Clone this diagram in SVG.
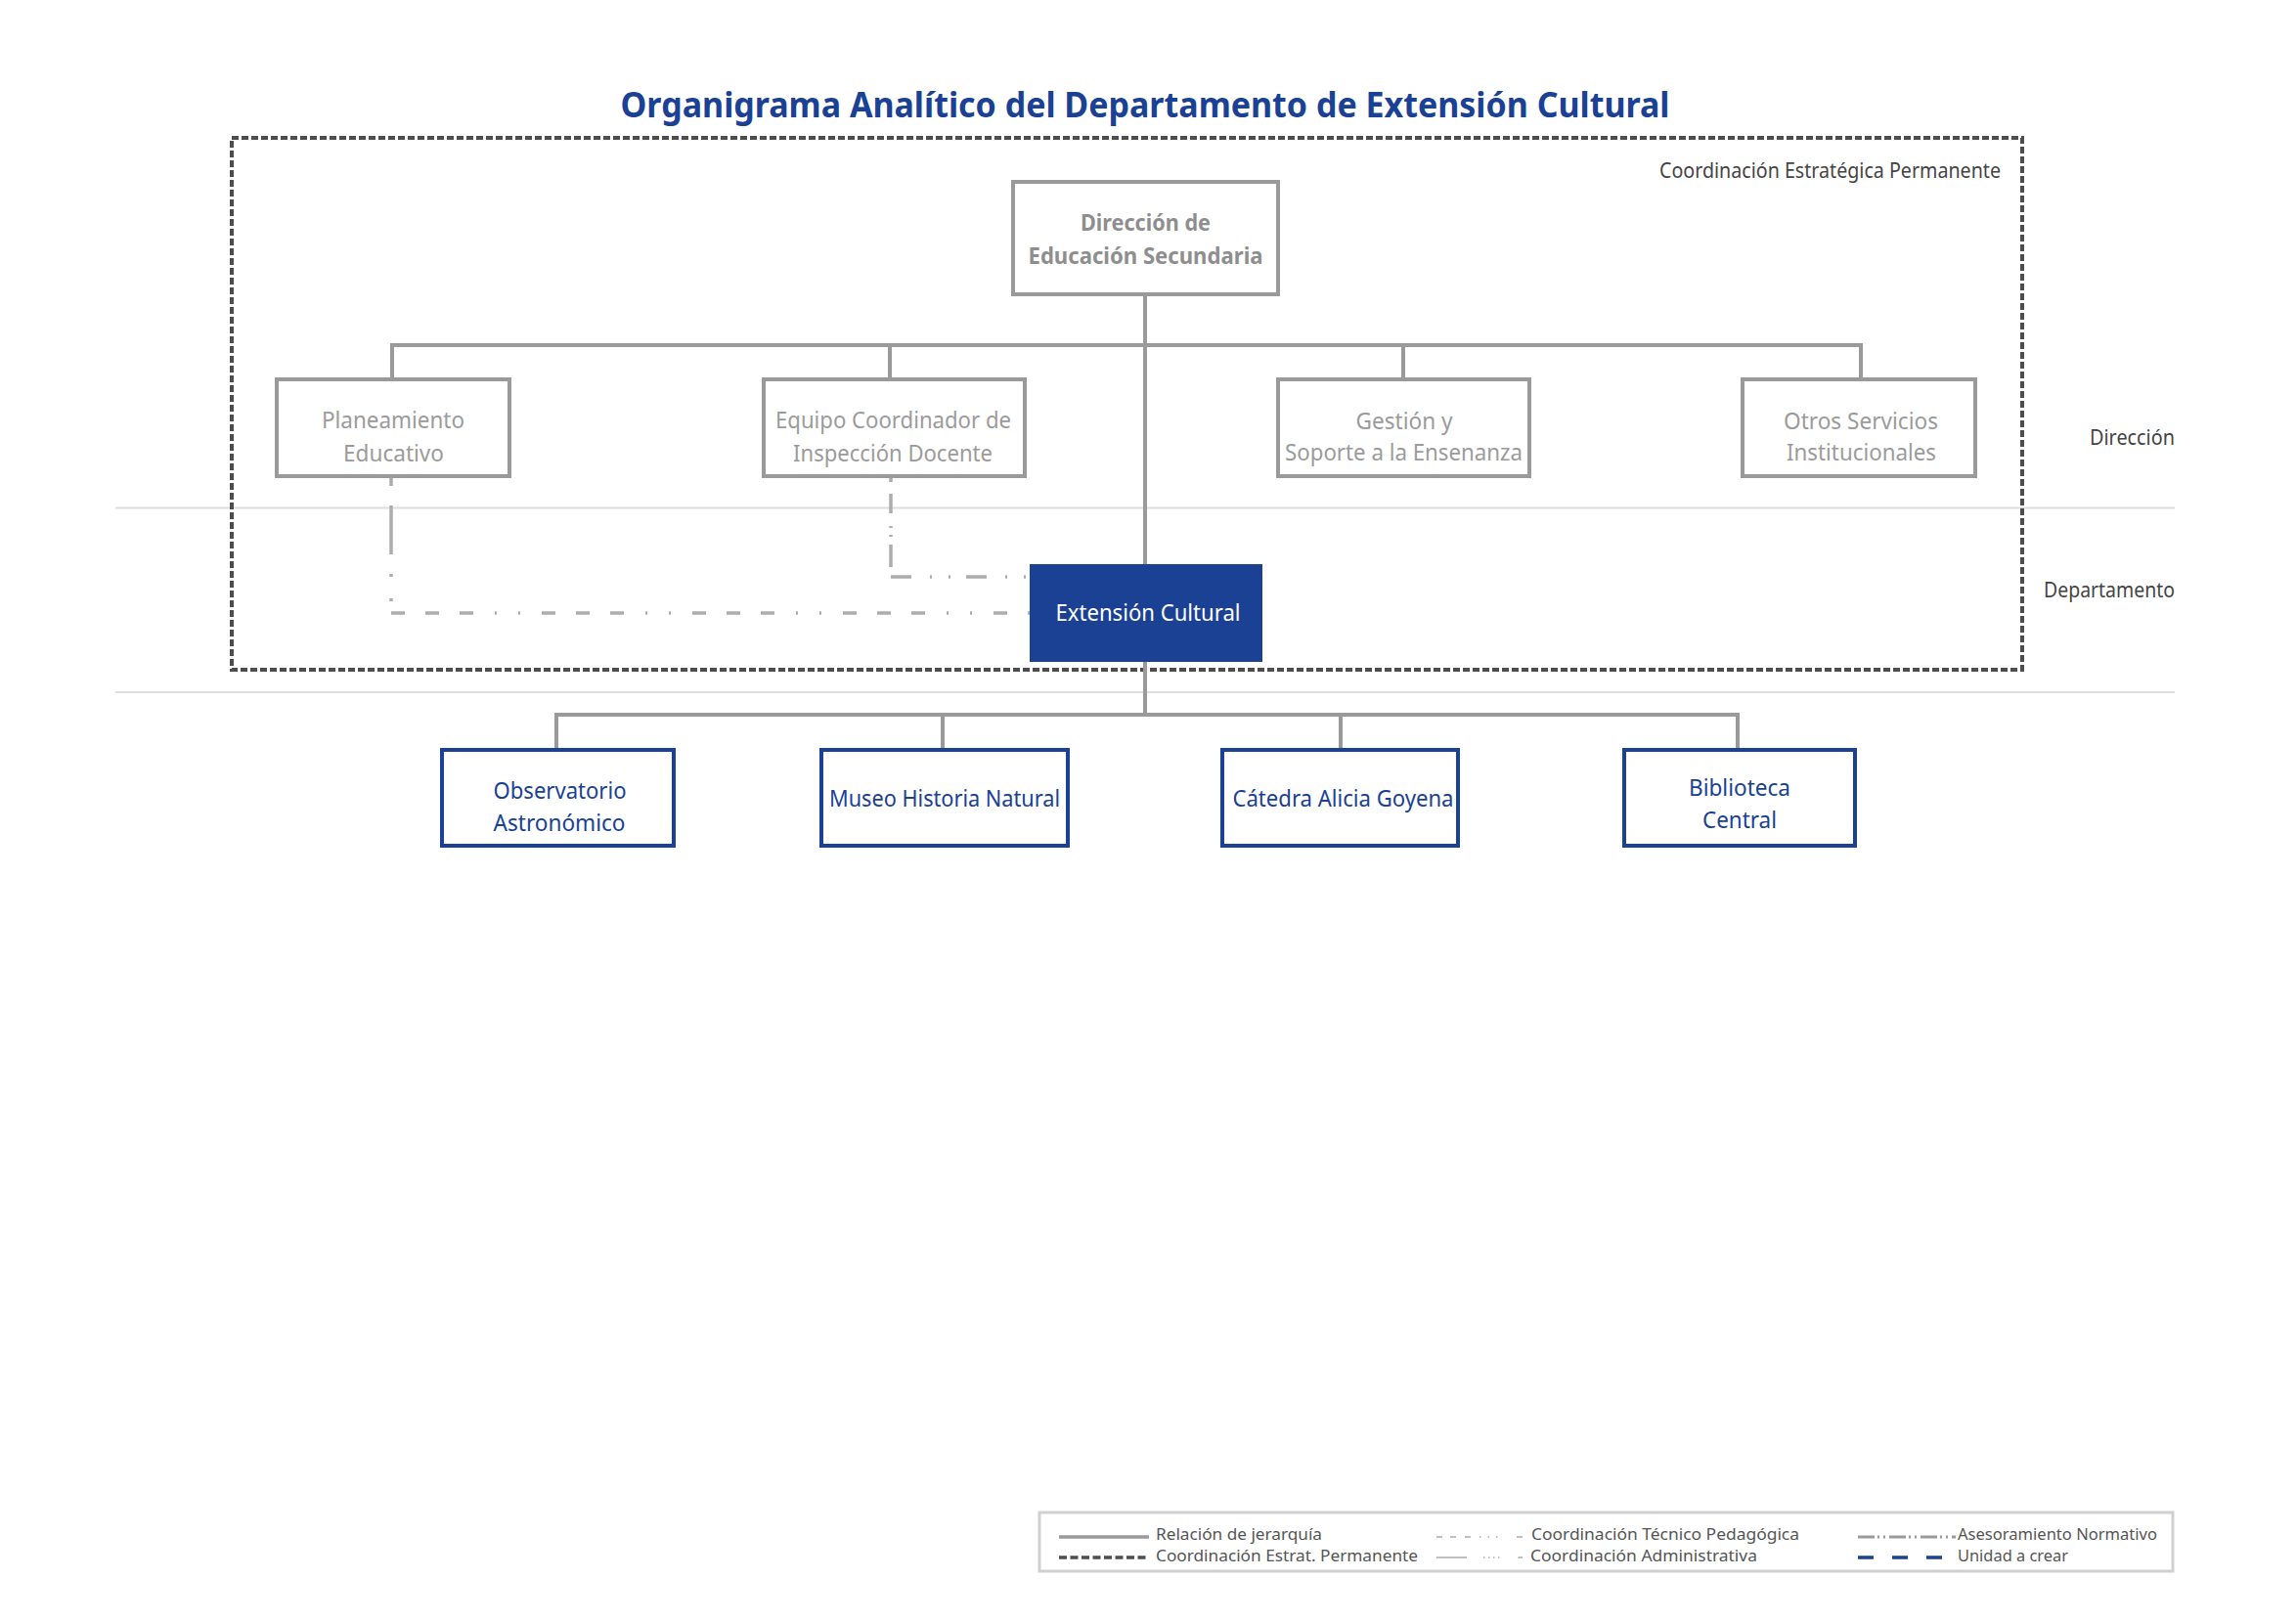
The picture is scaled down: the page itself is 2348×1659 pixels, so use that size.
<svg xmlns="http://www.w3.org/2000/svg" width="2348" height="1659" viewBox="0 0 2348 1659">
<style>
text{font-family:"Noto Sans","Open Sans",sans-serif;}
.title{font-size:35px;font-weight:700;fill:#1a4194;text-anchor:middle;}
.gbox{fill:#ffffff;stroke:#9a9a9a;stroke-width:4;}
.bbox{fill:#ffffff;stroke:#1a4194;stroke-width:4;}
.gtxt{font-size:23px;fill:#9b9b9b;text-anchor:middle;}
.gbold{font-size:23px;font-weight:700;fill:#8e8e8e;text-anchor:middle;}
.btxt{font-size:23px;fill:#1a4194;text-anchor:middle;}
.wtxt{font-size:23px;fill:#ffffff;text-anchor:middle;}
.lbl{font-size:21px;fill:#444444;}
.leg{font-size:17px;fill:#555555;}
.hier{stroke:#9a9a9a;stroke-width:4;fill:none;}
.coord{stroke:#adadad;stroke-width:3.5;fill:none;}
.band{stroke:#dddddd;stroke-width:2;}
</style>
<rect x="0" y="0" width="2348" height="1659" fill="#ffffff"/>

<g id="bands">
<line class="band" x1="118" y1="519.5" x2="2224" y2="519.5"/>
<line class="band" x1="118" y1="708" x2="2224" y2="708"/>
</g>

<text class="title" x="1171" y="120" textLength="1073" lengthAdjust="spacingAndGlyphs">Organigrama Analítico del Departamento de Extensión Cultural</text>

<g id="coord-estrategica">
<rect x="237" y="141" width="1831" height="544" fill="none" stroke="#4d4d4d" stroke-width="4" stroke-dasharray="7 3"/>
<text class="lbl" x="2046" y="182" text-anchor="end" textLength="349" lengthAdjust="spacingAndGlyphs">Coordinación Estratégica Permanente</text>
</g>

<g id="level-labels">
<text class="lbl" x="2224" y="455" text-anchor="end" textLength="87" lengthAdjust="spacingAndGlyphs">Dirección</text>
<text class="lbl" x="2224" y="611" text-anchor="end" textLength="134" lengthAdjust="spacingAndGlyphs">Departamento</text>
</g>

<g id="connectors">
<line class="hier" x1="1171" y1="301" x2="1171" y2="731"/>
<line class="hier" x1="401" y1="353" x2="1903" y2="353"/>
<line class="hier" x1="401" y1="351" x2="401" y2="388"/>
<line class="hier" x1="910" y1="353" x2="910" y2="388"/>
<line class="hier" x1="1435" y1="353" x2="1435" y2="388"/>
<line class="hier" x1="1903" y1="351" x2="1903" y2="388"/>
<line class="hier" x1="569" y1="731" x2="1777" y2="731"/>
<line class="hier" x1="569" y1="729" x2="569" y2="767"/>
<line class="hier" x1="964" y1="731" x2="964" y2="767"/>
<line class="hier" x1="1371" y1="731" x2="1371" y2="767"/>
<line class="hier" x1="1777" y1="729" x2="1777" y2="767"/>
<line class="coord" x1="400" y1="487" x2="400" y2="627" stroke-width="3" stroke-dasharray="10 20 50 20 3 22 3 12"/>
<line class="coord" x1="400" y1="627" x2="1053" y2="627" stroke-dasharray="14 21 14 21 14 22 2 22 2 22"/>
<line class="coord" x1="911" y1="487" x2="911" y2="590" stroke-width="3" stroke-dasharray="6 12 20 13 2 7 2 8 23 10"/>
<line class="coord" x1="911" y1="590" x2="1053" y2="590" stroke-dasharray="21 19 2 17 2 16"/>
</g>

<g id="node-direccion">
<rect class="gbox" x="1036" y="186" width="271" height="115"/>
<text class="gbold" x="1171.5" y="236" textLength="133" lengthAdjust="spacingAndGlyphs">Dirección de</text>
<text class="gbold" x="1171.5" y="270" textLength="240" lengthAdjust="spacingAndGlyphs">Educación Secundaria</text>
</g>

<g id="node-planeamiento">
<rect class="gbox" x="283" y="388" width="238" height="99"/>
<text class="gtxt" x="402" y="438" textLength="146" lengthAdjust="spacingAndGlyphs">Planeamiento</text>
<text class="gtxt" x="402.5" y="472" textLength="103" lengthAdjust="spacingAndGlyphs">Educativo</text>
</g>

<g id="node-equipo">
<rect class="gbox" x="781" y="388" width="267" height="99"/>
<text class="gtxt" x="913.5" y="438" textLength="241" lengthAdjust="spacingAndGlyphs">Equipo Coordinador de</text>
<text class="gtxt" x="913" y="472" textLength="204" lengthAdjust="spacingAndGlyphs">Inspección Docente</text>
</g>

<g id="node-gestion">
<rect class="gbox" x="1307" y="388" width="257" height="99"/>
<text class="gtxt" x="1436" y="439" textLength="99" lengthAdjust="spacingAndGlyphs">Gestión y</text>
<text class="gtxt" x="1435.5" y="471" textLength="243" lengthAdjust="spacingAndGlyphs">Soporte a la Ensenanza</text>
</g>

<g id="node-otros">
<rect class="gbox" x="1782" y="388" width="238" height="99"/>
<text class="gtxt" x="1903" y="439" textLength="158" lengthAdjust="spacingAndGlyphs">Otros Servicios</text>
<text class="gtxt" x="1903.5" y="471" textLength="153" lengthAdjust="spacingAndGlyphs">Institucionales</text>
</g>

<g id="node-extension">
<rect x="1053" y="577" width="238" height="100" fill="#1a4194"/>
<text class="wtxt" x="1174" y="635" textLength="189" lengthAdjust="spacingAndGlyphs">Extensión Cultural</text>
</g>

<g id="node-observatorio">
<rect class="bbox" x="452" y="767" width="237" height="98"/>
<text class="btxt" x="572.5" y="817" textLength="136" lengthAdjust="spacingAndGlyphs">Observatorio</text>
<text class="btxt" x="572" y="850" textLength="135" lengthAdjust="spacingAndGlyphs">Astronómico</text>
</g>

<g id="node-museo">
<rect class="bbox" x="840" y="767" width="252" height="98"/>
<text class="btxt" x="966" y="825" textLength="236" lengthAdjust="spacingAndGlyphs">Museo Historia Natural</text>
</g>

<g id="node-catedra">
<rect class="bbox" x="1250" y="767" width="241" height="98"/>
<text class="btxt" x="1373.5" y="825" textLength="226" lengthAdjust="spacingAndGlyphs">Cátedra Alicia Goyena</text>
</g>

<g id="node-biblioteca">
<rect class="bbox" x="1661" y="767" width="236" height="98"/>
<text class="btxt" x="1779" y="814" textLength="104" lengthAdjust="spacingAndGlyphs">Biblioteca</text>
<text class="btxt" x="1779" y="847" textLength="76" lengthAdjust="spacingAndGlyphs">Central</text>
</g>

<g id="legend">
<rect x="1063" y="1547" width="1159" height="60" fill="#ffffff" stroke="#d0d0d0" stroke-width="3"/>
<line x1="1083" y1="1572" x2="1175" y2="1572" stroke="#9a9a9a" stroke-width="3.5"/>
<text class="leg" x="1182" y="1575" textLength="170" lengthAdjust="spacingAndGlyphs">Relación de jerarquía</text>
<line x1="1083" y1="1593" x2="1175" y2="1593" stroke="#4d4d4d" stroke-width="3.5" stroke-dasharray="8 3.5"/>
<text class="leg" x="1182" y="1597" textLength="268" lengthAdjust="spacingAndGlyphs">Coordinación Estrat. Permanente</text>
<line x1="1469" y1="1572" x2="1557" y2="1572" stroke="#aaaaaa" stroke-width="1.5" stroke-dasharray="6 8 6 9 6 9 1.5 7 1.5 7 1.5 19.5 6"/>
<text class="leg" x="1566" y="1575" textLength="274" lengthAdjust="spacingAndGlyphs">Coordinación Técnico Pedagógica</text>
<line x1="1469" y1="1593" x2="1557" y2="1593" stroke="#aaaaaa" stroke-width="1.5" stroke-dasharray="31 17 1.5 3.5 1.5 3.5 1.5 3.5 1.5 19 6"/>
<text class="leg" x="1565" y="1597" textLength="232" lengthAdjust="spacingAndGlyphs">Coordinación Administrativa</text>
<line x1="1900" y1="1572" x2="2000" y2="1572" stroke="#9a9a9a" stroke-width="3" stroke-dasharray="17 3 2 4 2 4"/>
<text class="leg" x="2002" y="1575" textLength="204" lengthAdjust="spacingAndGlyphs">Asesoramiento Normativo</text>
<line x1="1900" y1="1593" x2="1986" y2="1593" stroke="#1a4194" stroke-width="3.5" stroke-dasharray="16 19"/>
<text class="leg" x="2002" y="1597" textLength="113" lengthAdjust="spacingAndGlyphs">Unidad a crear</text>
</g>
</svg>
